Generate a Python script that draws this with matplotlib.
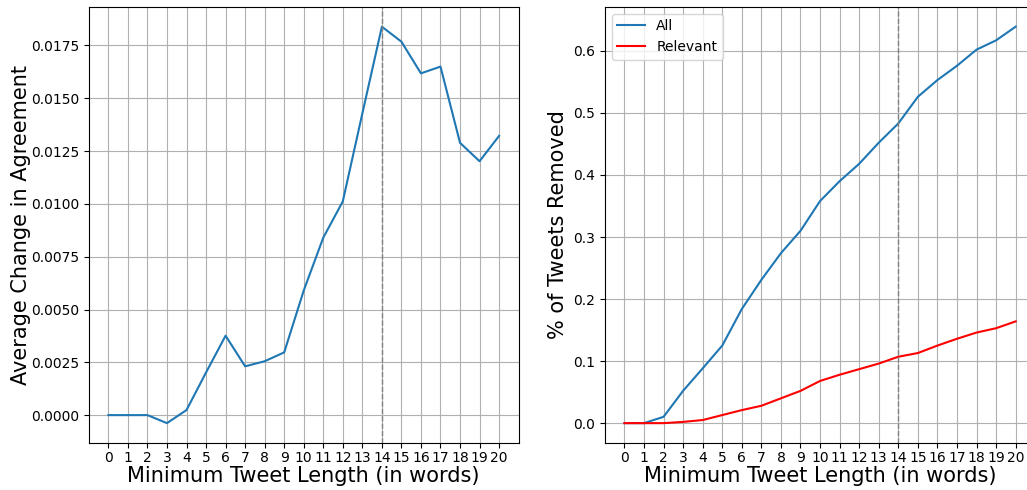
import numpy as np
import matplotlib
matplotlib.use('Agg')
import matplotlib.pyplot as plt

min_len = list(range(0, 21))

# average change in agreement per minimum tweet length
agreement = [0.0, 0.0, 0.0, -0.00038, 0.00024, 0.00202, 0.00376, 0.00231,
             0.00255, 0.00297, 0.0059, 0.0084, 0.01012, 0.01428, 0.01839,
             0.01768, 0.01618, 0.0165, 0.01289, 0.01202, 0.01322]

# share of tweets removed
removed_all = [0.0, 0.0, 0.0102, 0.0522, 0.0883, 0.125, 0.184, 0.231, 0.274,
               0.310, 0.358, 0.390, 0.418, 0.452, 0.483, 0.526, 0.553, 0.576,
               0.602, 0.617, 0.639]
removed_rel = [0.0, 0.0, 0.0, 0.002, 0.005, 0.013, 0.021, 0.028, 0.040, 0.052,
               0.068, 0.078, 0.087, 0.096, 0.107, 0.113, 0.125, 0.136, 0.146,
               0.153, 0.164]

cutoff = 14

fig = plt.figure(figsize=(10.27, 4.9), dpi=100)
ax1 = fig.add_axes([0.0865, 0.096, 0.4185, 0.890])
ax2 = fig.add_axes([0.589, 0.096, 0.419, 0.890])

ax1.plot(min_len, agreement, color='#1f77b4')
ax1.axvline(cutoff, color='gray', linestyle='--', linewidth=1)
ax1.set_xticks(min_len)
ax1.tick_params(axis='x', pad=2)
ax1.set_xlabel('Minimum Tweet Length (in words)', fontsize=15, labelpad=1)
ax1.set_ylabel('Average Change in Agreement', fontsize=15, labelpad=0)
ax1.grid()

ax2.plot(min_len, removed_all, color='#1f77b4', label='All')
ax2.plot(min_len, removed_rel, color='red', label='Relevant')
ax2.axvline(cutoff, color='gray', linestyle='--', linewidth=1)
ax2.set_xticks(min_len)
ax2.tick_params(axis='x', pad=2)
ax2.set_xlabel('Minimum Tweet Length (in words)', fontsize=15, labelpad=1)
ax2.set_ylabel('% of Tweets Removed', fontsize=15)
ax2.legend(loc='upper left')
ax2.grid()

fig.savefig('out.png', dpi=100)
